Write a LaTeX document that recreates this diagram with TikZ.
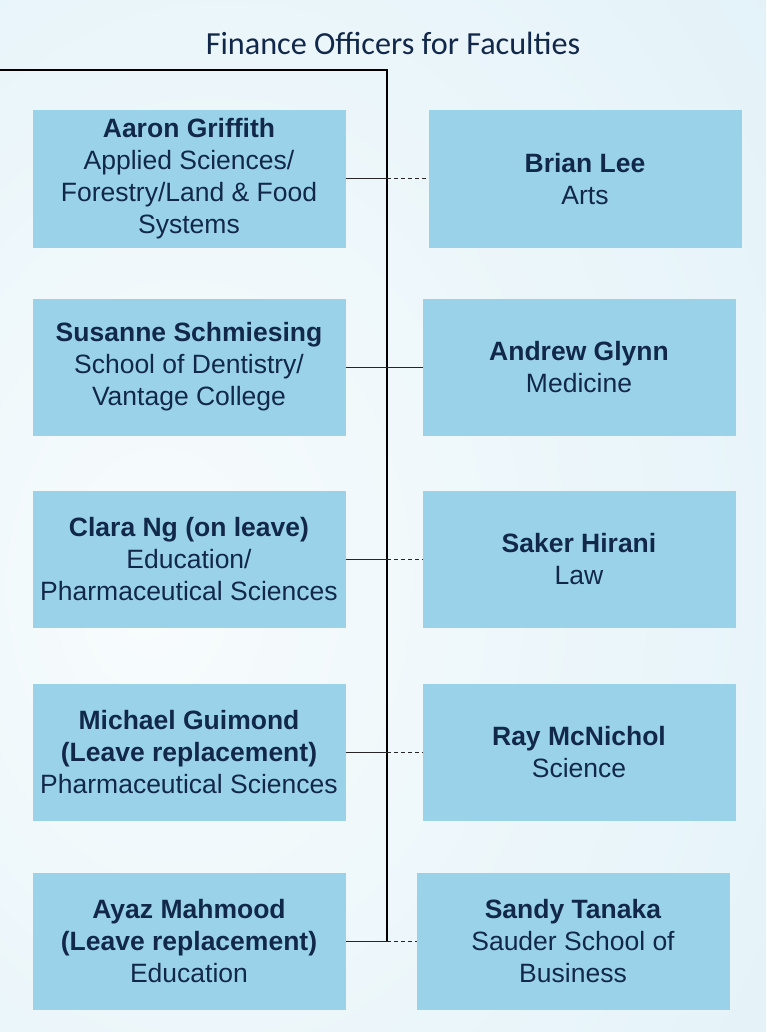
\documentclass[tikz,border=0pt]{standalone}
\usepackage{fontspec}
\setmainfont{Liberation Sans}
\newfontfamily\titlefont{Carlito}
\usetikzlibrary{positioning}
\definecolor{boxblue}{HTML}{9AD3E9}
\definecolor{navy}{HTML}{12284A}
\definecolor{bgin}{HTML}{F8FCFD}
\definecolor{bgout}{HTML}{D4EBF5}
\pgfdeclareradialshading{bgglow}{\pgfpoint{-16bp}{-4bp}}{color(0bp)=(bgin); color(25bp)=(bgin!65!bgout); color(75bp)=(bgout)}
\tikzset{x=1pt, y=-1pt, node distance=51pt, font=\fontsize{26.5}{32}\selectfont}
\tikzstyle{officer} = [fill=boxblue, rectangle, minimum width=313pt, minimum height=137pt, inner sep=0pt, outer sep=0pt, text=navy, align=center]
\tikzstyle{heading} = [text=navy, font=\titlefont\fontsize{32.2}{38}\selectfont]
\tikzstyle{spine} = [line width=1.8pt, black]
\tikzstyle{link} = [line width=1pt, black!85]
\tikzstyle{dashlink} = [link, dash pattern=on 4pt off 3pt]
\newcommand{\who}[1]{\textbf{#1}}

\begin{document}
\begin{tikzpicture}
	\useasboundingbox (0,0) rectangle (766,1032);
	\shade [shading=bgglow] (0,0) rectangle (766,1032);
	\node [heading] (title) at (393,43) {Finance Officers for Faculties};

	% left column
	\node [officer] (aaron) at (189,179) {\who{Aaron Griffith}\\Applied Sciences/\\Forestry/Land \& Food\\Systems};
	\node [officer, below=51pt of aaron] (susanne) {\who{Susanne Schmiesing}\\School of Dentistry/\\Vantage College};
	\node [officer, below=55pt of susanne] (clara) {\who{Clara Ng (on leave)}\\Education/\\Pharmaceutical Sciences};
	\node [officer, below=56pt of clara] (michael) {\who{Michael Guimond}\\\who{(Leave replacement)}\\Pharmaceutical Sciences};
	\node [officer, below=52pt of michael] (ayaz) {\who{Ayaz Mahmood}\\\who{(Leave replacement)}\\Education};

	% right column
	\node [officer, right=83pt of aaron] (brian) {\who{Brian Lee}\\Arts};
	\node [officer, right=77pt of susanne] (andrew) {\who{Andrew Glynn}\\Medicine};
	\node [officer, right=77pt of clara] (saker) {\who{Saker Hirani}\\Law};
	\node [officer, right=77pt of michael] (ray) {\who{Ray McNichol}\\Science};
	\node [officer, right=71pt of ayaz] (sandy) {\who{Sandy Tanaka}\\Sauder School of\\Business};

	\coordinate (top_end) at (0,70);
	\coordinate (corner) at (387,70);
	\coordinate (spine_end) at (corner |- ayaz);

	\draw [spine] (top_end) -- (corner) -- (spine_end);
	\foreach \l/\r/\s in {aaron/brian/dashlink, susanne/andrew/link, clara/saker/dashlink, michael/ray/dashlink, ayaz/sandy/dashlink} {
		\draw [link] (\l) -- (\l -| corner);
		\draw [\s] (\l -| corner) -- (\r);
	}
\end{tikzpicture}
\end{document}
